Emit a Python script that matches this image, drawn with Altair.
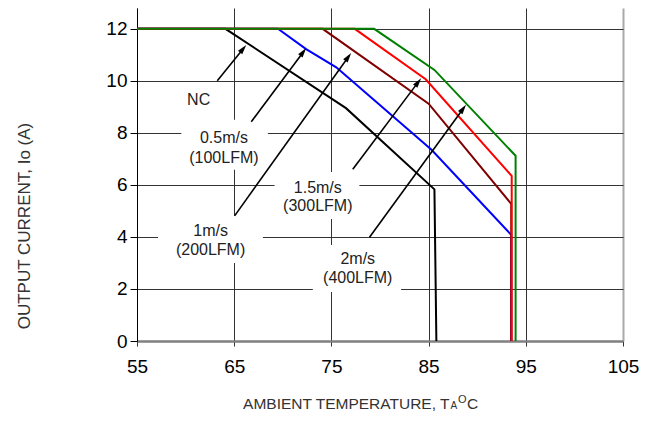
import math
import altair as alt
import pandas as pd

# ---------------- data ----------------
series_names = ["NC", "0.5m/s (100LFM)", "1m/s (200LFM)", "1.5m/s (300LFM)", "2m/s (400LFM)"]
series_colors = ["#000000", "#0000ff", "#800000", "#ff0000", "#008000"]

nc_temp = [55, 64.1, 76.5, 85.6, 85.8]
nc_curr = [12, 12, 8.95, 5.83, 0]
v05_temp = [55, 69.5, 72.4, 75.5, 85.3, 93.5, 93.5]
v05_curr = [12, 12, 11.22, 10.52, 7.35, 4.08, 0]
v10_temp = [55, 74.1, 85.0, 93.5, 93.5]
v10_curr = [12, 12, 9.12, 5.27, 0]
v15_temp = [55, 77.4, 84.7, 93.55, 93.55]
v15_curr = [12, 12, 10.06, 6.35, 0]
v20_temp = [55, 79.4, 85.6, 93.95, 93.95]
v20_curr = [12, 12, 10.42, 7.12, 0]

x_ticks = [55, 65, 75, 85, 95, 105]
y_ticks = [0, 2, 4, 6, 8, 10, 12]

# curve labels (two lines each)
label_line1 = ["NC", "0.5m/s", "1m/s", "1.5m/s", "2m/s"]
label_line2 = ["", "(100LFM)", "(200LFM)", "(300LFM)", "(400LFM)"]
label_temp = [61.34, 63.94, 62.57, 73.60, 77.71]
label_curr1 = [9.27, 7.80, 4.24, 5.87, 3.14]
label_curr2 = [9.27, 7.03, 3.50, 5.17, 2.41]

# white label boxes that interrupt the grid
box_t1 = [59.56, 57.16, 69.15, 73.09]
box_t2 = [68.46, 67.95, 77.88, 82.17]
box_c1 = [6.58, 3.00, 4.69, 1.88]
box_c2 = [8.50, 4.81, 6.50, 3.69]

# arrows (start -> tip)
arrow_t1 = [63.26, 66.76, 65.04, 77.20, 78.92]
arrow_c1 = [10.00, 8.43, 4.81, 6.60, 3.99]
arrow_t2 = [66.24, 72.41, 77.03, 84.23, 88.85]
arrow_c2 = [11.38, 11.26, 11.07, 10.10, 9.08]

# ---------------- layout ----------------
PLOT_W, PLOT_H = 486, 333
X_MIN, X_MAX = 55, 105
Y_MIN, Y_MAX = 0, 12.8
ppx = PLOT_W / (X_MAX - X_MIN)
ppy = PLOT_H / (Y_MAX - Y_MIN)
FONT = "Liberation Sans"

rows = []
for name, xs, ys in zip(series_names,
                        [nc_temp, v05_temp, v10_temp, v15_temp, v20_temp],
                        [nc_curr, v05_curr, v10_curr, v15_curr, v20_curr]):
    for i, (t, c) in enumerate(zip(xs, ys)):
        rows.append({"series": name, "idx": i, "temp": t, "curr": c})
lines_df = pd.DataFrame(rows)

x_scale = alt.Scale(domain=[X_MIN, X_MAX], nice=False, zero=False)
y_scale = alt.Scale(domain=[Y_MIN, Y_MAX], nice=False, zero=False)

lines = alt.Chart(lines_df).mark_line(strokeWidth=2).encode(
    x=alt.X("temp:Q", scale=x_scale, title=None,
            axis=alt.Axis(values=x_ticks, format="d", labelFlush=False,
                          gridColor={"condition": {"test": "datum.value === 105", "value": "#aaaaaa"}, "value": "#333333"},
                          gridWidth={"condition": {"test": "datum.value === 105", "value": 2}, "value": 1})),
    y=alt.Y("curr:Q", scale=y_scale, title=None,
            axis=alt.Axis(values=y_ticks, format="d", labelFlush=False,
                          gridColor={"condition": {"test": "datum.value === 0", "value": "#808080"}, "value": "#333333"},
                          gridWidth={"condition": {"test": "datum.value === 0", "value": 2}, "value": 1})),
    color=alt.Color("series:N", scale=alt.Scale(domain=series_names, range=series_colors), legend=None),
    detail="series:N",
    order=alt.Order("idx:Q"),
)

boxes_df = pd.DataFrame({"t1": box_t1, "t2": box_t2, "c1": box_c1, "c2": box_c2})
boxes = alt.Chart(boxes_df).mark_rect(fill="white").encode(
    x=alt.X("t1:Q", scale=x_scale, title=None), x2="t2:Q",
    y=alt.Y("c1:Q", scale=y_scale, title=None), y2="c2:Q",
)

# arrow geometry: head centre placed back from the tip along the arrow direction
HEAD_SIZE = 150
head_r = math.sqrt(HEAD_SIZE) / 2
arr_rows = []
for t1, c1, t2, c2 in zip(arrow_t1, arrow_c1, arrow_t2, arrow_c2):
    dx = (t2 - t1) * ppx
    dy = (c2 - c1) * ppy
    L = math.hypot(dx, dy)
    ux, uy = dx / L, dy / L
    ht = t2 - ux * head_r / ppx
    hc = c2 - uy * head_r / ppy
    ang = math.degrees(math.atan2(dx, dy))
    arr_rows.append({"t1": t1, "c1": c1, "ht": ht, "hc": hc, "angle": ang})
arr_df = pd.DataFrame(arr_rows)

arrow_lines = alt.Chart(arr_df).mark_rule(color="black", strokeWidth=1.6).encode(
    x=alt.X("t1:Q", scale=x_scale, title=None), y=alt.Y("c1:Q", scale=y_scale, title=None),
    x2="ht:Q", y2="hc:Q",
)
arrow_heads = alt.Chart(arr_df).mark_point(
    shape="M0,-1L0.45,0.6L-0.45,0.6Z", filled=True, color="black", opacity=1, size=HEAD_SIZE
).encode(
    x=alt.X("ht:Q", scale=x_scale, title=None), y=alt.Y("hc:Q", scale=y_scale, title=None),
    angle=alt.Angle("angle:Q", scale=None),
)

lab_rows = []
for l1, l2, t, c1, c2 in zip(label_line1, label_line2, label_temp, label_curr1, label_curr2):
    lab_rows.append({"text": l1, "temp": t, "curr": c1})
    if l2:
        lab_rows.append({"text": l2, "temp": t, "curr": c2})
lab_df = pd.DataFrame(lab_rows)
labels = alt.Chart(lab_df).mark_text(font=FONT, fontSize=16, color="#222222", align="center", baseline="middle").encode(
    x=alt.X("temp:Q", scale=x_scale, title=None), y=alt.Y("curr:Q", scale=y_scale, title=None), text="text:N"
)

# axis titles (with sub/superscripts) as text marks
title_df = pd.DataFrame({"k": [0]})
def tmark(text, x, y, size=15, align="left", angle=0, baseline="alphabetic"):
    return alt.Chart(title_df).mark_text(
        text=text, font=FONT, fontSize=size, color="#333333", align=align, baseline=baseline, angle=angle
    ).encode(x=alt.value(x), y=alt.value(y))

xt_main = tmark("AMBIENT TEMPERATURE, T", 312.5, 401, size=15.5, align="right")
xt_sub = tmark("A", 313.5, 401, size=10)
xt_sup = tmark("O", 321, 394.5, size=11)
xt_c = tmark("C", 330, 401, size=15.5)
yt = tmark("OUTPUT CURRENT, Io  (A)", -112, 218, size=17, align="center", angle=270, baseline="middle")

chart = alt.layer(
    boxes, lines, arrow_lines, arrow_heads, labels, xt_main, xt_sub, xt_sup, xt_c, yt
).properties(
    width=PLOT_W, height=PLOT_H,
    autosize=alt.AutoSizeParams(type="none"),
    padding={"left": 129, "top": 0, "right": 20, "bottom": 72},
).configure_view(stroke=None).configure_axis(
    labelFont=FONT, labelFontSize=19, labelColor="black", grid=True,
).configure_axisX(
    domainColor="#808080", domainWidth=2, tickColor="#333333", tickSize=5, labelPadding=11,
).configure_axisY(
    domainColor="black", domainWidth=1, tickColor="black", tickSize=7, labelPadding=3,
)

chart.save("out.html", embed_options={"renderer": "svg", "actions": False})
